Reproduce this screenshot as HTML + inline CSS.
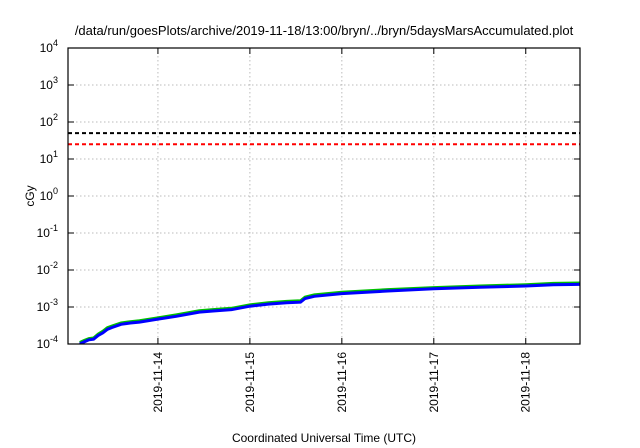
<!DOCTYPE html>
<html><head><meta charset="utf-8"><style>
body{margin:0;background:#fff;}
svg{display:block;font-family:"Liberation Sans",sans-serif;}
</style></head><body>
<svg id="chart" width="640" height="448">
<text x="324" y="35" text-anchor="middle" font-size="13">/data/run/goesPlots/archive/2019-11-18/13:00/bryn/../bryn/5daysMarsAccumulated.plot</text>
<text transform="translate(34,196) rotate(-90)" text-anchor="middle" font-size="12">cGy</text>
<text x="324" y="442" text-anchor="middle" font-size="12">Coordinated Universal Time (UTC)</text>
<g id="grid"></g><g id="ticks"></g><g id="series"></g>
<rect x="68" y="48" width="512" height="296" fill="none" stroke="#000" stroke-width="1.2"/>
</svg>
<script>
const yTicks=[-4,-3,-2,-1,0,1,2,3,4];
const xTickDays=[1,2,3,4,5];
const xTickLabels=["2019-11-14","2019-11-15","2019-11-16","2019-11-17","2019-11-18"];
const thresholdBlack=50;
const thresholdRed=25;
const days=[0.15,0.2,0.25,0.3,0.35,0.4,0.45,0.5,0.6,0.7,0.8,1.0,1.2,1.45,1.6,1.8,2.0,2.2,2.4,2.55,2.6,2.7,3.0,3.5,4.0,4.5,5.0,5.3,5.6];
const blue=[1.0e-4,1.15e-4,1.3e-4,1.35e-4,1.7e-4,2.0e-4,2.5e-4,2.8e-4,3.4e-4,3.7e-4,3.9e-4,4.7e-4,5.6e-4,7.3e-4,7.8e-4,8.5e-4,1.05e-3,1.2e-3,1.3e-3,1.35e-3,1.7e-3,1.95e-3,2.3e-3,2.7e-3,3.1e-3,3.4e-3,3.7e-3,4.0e-3,4.1e-3];
const green=[1.1e-4,1.25e-4,1.4e-4,1.45e-4,1.85e-4,2.2e-4,2.75e-4,3.05e-4,3.7e-4,4.0e-4,4.25e-4,5.1e-4,6.1e-4,7.9e-4,8.5e-4,9.2e-4,1.14e-3,1.3e-3,1.42e-3,1.47e-3,1.85e-3,2.12e-3,2.5e-3,2.95e-3,3.35e-3,3.7e-3,4.0e-3,4.35e-3,4.45e-3];
const X0=68,X1=580,Y0=344,Y1=48,D0=0.022,D1=5.59;
const xs=d=>X0+(d-D0)/(D1-D0)*(X1-X0);
const ys=v=>Y0-(Math.log10(v)+4)/8*(Y0-Y1);
const NS="http://www.w3.org/2000/svg";
function mk(t,a,p){const e=document.createElementNS(NS,t);for(const k in a)e.setAttribute(k,a[k]);document.getElementById(p).appendChild(e);return e;}
yTicks.forEach(p=>{const y=ys(Math.pow(10,p));
 if(p>-4&&p<4){const g=mk("line",{x1:X0,x2:X1,y1:y,y2:y,stroke:"#bbb","stroke-dasharray":"1.5,2.5"},"grid");
 
 }
 const t1=mk("line",{x1:X0,x2:X0+6,y1:y,y2:y,stroke:"#000"},"ticks");
 
 
 const t2=mk("line",{x1:X1-6,x2:X1,y1:y,y2:y,stroke:"#000"},"ticks");
 
 
 const tx=mk("text",{x:58,y:y+4,"text-anchor":"end","font-size":"12"},"ticks");
 
 
 tx.innerHTML='10<tspan dy="-6" font-size="9">'+p+'</tspan>';});
xTickDays.forEach((d,i)=>{const x=xs(d);
 const g=mk("line",{x1:x,x2:x,y1:Y1,y2:Y0,stroke:"#bbb","stroke-dasharray":"1.5,2.5"},"grid");
 
 
 const t1=mk("line",{x1:x,x2:x,y1:Y0-6,y2:Y0,stroke:"#000"},"ticks");
 
 
 const t2=mk("line",{x1:x,x2:x,y1:Y1,y2:Y1+6,stroke:"#000"},"ticks");
 
 
 const tx=mk("text",{transform:"translate("+(x+4)+",352) rotate(-90)","text-anchor":"end","font-size":"12"},"ticks");
 
 
 tx.textContent=xTickLabels[i];});
const lb=mk("line",{x1:X0,x2:X1,y1:ys(thresholdBlack),y2:ys(thresholdBlack),stroke:"#000","stroke-width":2,"stroke-dasharray":"4,3"},"series");


const lr=mk("line",{x1:X0,x2:X1,y1:ys(thresholdRed),y2:ys(thresholdRed),stroke:"#f00","stroke-width":2,"stroke-dasharray":"4,3"},"series");


const cp=mk("clipPath",{id:"clip"},"series");
const r=document.createElementNS(NS,"rect");r.setAttribute("x",X0);r.setAttribute("y",Y1);r.setAttribute("width",X1-X0);r.setAttribute("height",Y0-Y1);cp.appendChild(r);
const pts=a=>days.map((d,i)=>xs(d).toFixed(1)+","+ys(a[i]).toFixed(1)).join(" ");
const pg=mk("polyline",{points:pts(green),fill:"none",stroke:"#00c000","stroke-width":3,"clip-path":"url(#clip)"},"series");


const pb=mk("polyline",{points:pts(blue),fill:"none",stroke:"#0000ff","stroke-width":3,"clip-path":"url(#clip)"},"series");


</script>
</body></html>
